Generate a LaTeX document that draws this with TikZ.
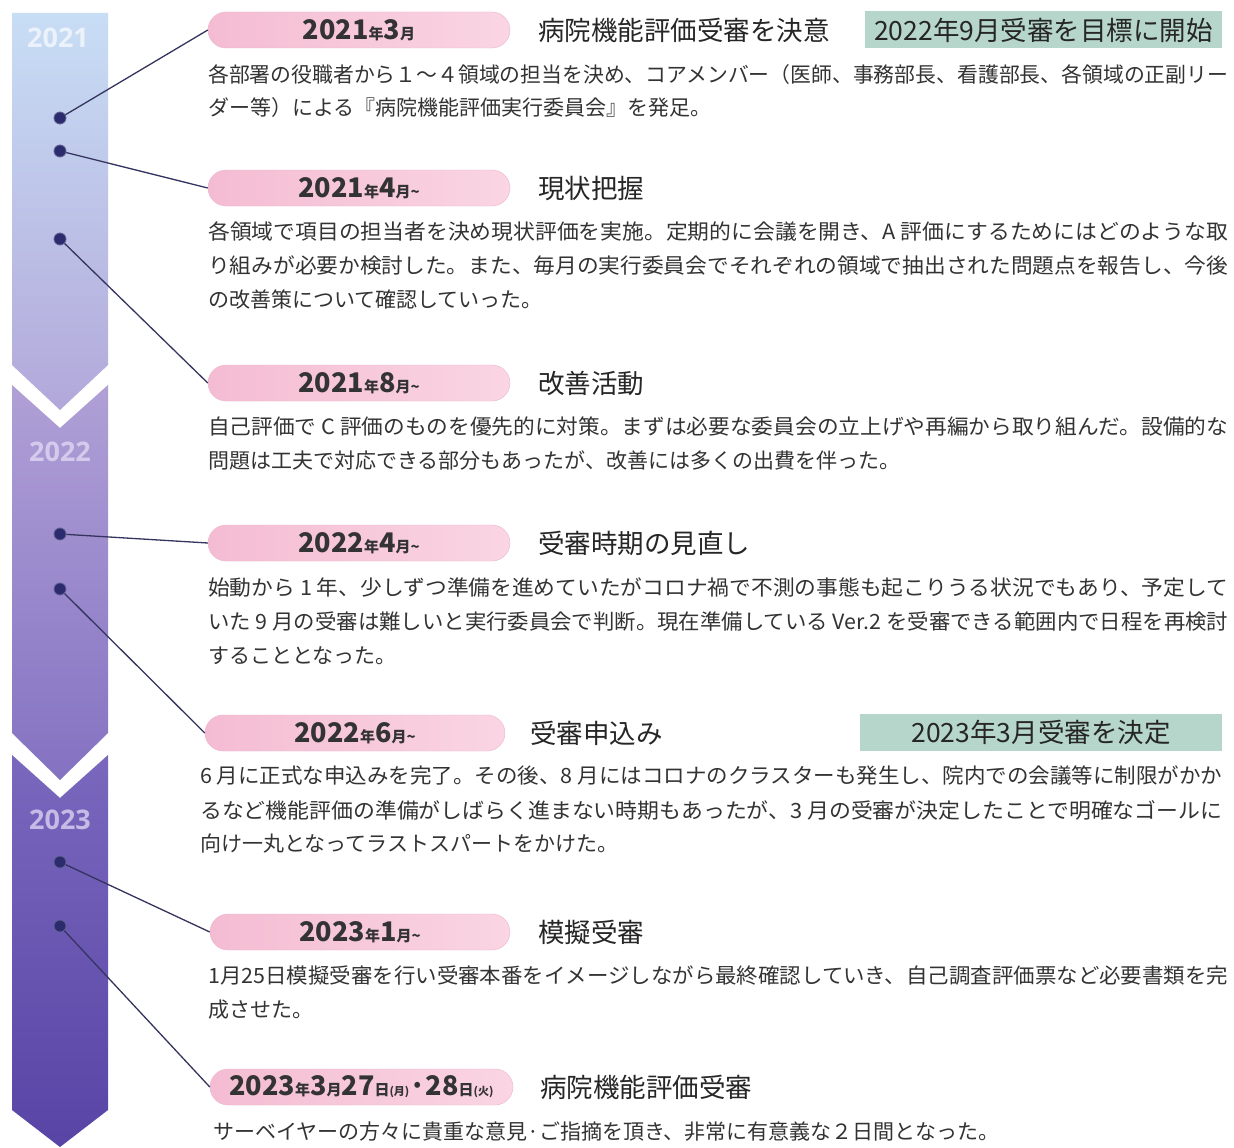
\documentclass[tikz,border=0pt]{standalone}
\usepackage{fontspec}
\usepackage{graphicx}
\setmainfont{Noto Sans CJK JP}
\newfontfamily\yearfont{Open Sans}
\definecolor{pinkL}{HTML}{F4BCD2}
\definecolor{pinkR}{HTML}{FAD5E3}
\definecolor{greenbox}{HTML}{B6D6CB}
\definecolor{txtgray}{HTML}{333333}
\definecolor{dotcol}{HTML}{2B2B6E}
\definecolor{linecol}{HTML}{34345F}
\newcommand\BN[1]{{\fontsize{27}{27}\selectfont\bfseries #1}}
\newcommand\SN[1]{{\fontsize{15}{15}\selectfont\bfseries #1}}
\newcommand\TN[1]{{\fontsize{11}{11}\selectfont\bfseries #1}}
\newcommand\jl[1]{\resizebox{1020pt}{\height}{#1}}
\newcommand\jlb[1]{\resizebox{1022pt}{\height}{#1}}
\tikzset{
  pill/.style={rectangle, rounded corners=18pt, minimum width=302pt, minimum height=36pt,
    left color=pinkL, right color=pinkR, draw=pinkL!85!black!20!pinkL, inner sep=0pt, text=txtgray},
  ttl/.style={anchor=west, font=\fontsize{26.5}{26.5}\selectfont, text=black!85, inner sep=0pt},
  gbox/.style={rectangle, fill=greenbox, minimum height=37pt, inner sep=0pt,
    font=\fontsize{26.5}{26.5}\selectfont, text=black!85},
  body/.style={anchor=west, font=\fontsize{21}{24}\selectfont, text=txtgray, inner sep=0pt},
  dot/.style={circle, fill=dotcol, draw=dotcol!75!white, line width=0.8pt, minimum size=12pt, inner sep=0pt},
  conn/.style={draw=linecol, line width=1.3pt},
  year/.style={font=\yearfont\bfseries\fontsize{27}{27}\selectfont, inner sep=0pt}
}
\begin{document}
\begin{tikzpicture}[x=1pt, y=-1pt]
\useasboundingbox (0,0) rectangle (1234,1148);
\fill[white] (0,0) rectangle (1234,1148);
% timeline band
\shade[top color={rgb,255:red,200;green,222;blue,245}, bottom color={rgb,255:red,178;green,168;blue,218}]
  (12,13) -- (108,13) -- (108,365) -- (60,410) -- (12,365) -- cycle;
\shade[top color={rgb,255:red,176;green,160;blue,214}, bottom color={rgb,255:red,132;green,114;blue,194}]
  (12,385) -- (60,428) -- (108,385) -- (108,733) -- (60,780) -- (12,733) -- cycle;
\shade[top color={rgb,255:red,122;green,104;blue,190}, bottom color={rgb,255:red,88;green,68;blue,165}]
  (12,755) -- (60,798) -- (108,755) -- (108,1110) -- (60,1147) -- (12,1110) -- cycle;
\node[year, text={rgb,255:red,236;green,242;blue,251}] (y1) at (58,38) {2021};
\node[year, text={rgb,255:red,214;green,202;blue,236}] (y2) at (60,452) {2022};
\node[year, text={rgb,255:red,200;green,186;blue,230}] (y3) at (60,820) {2023};
% pills
\node[pill] (p1) at (359,30) {\BN{2021}\SN{年}\BN{3}\SN{月}};
\node[pill] (p2) at (359,188) {\BN{2021}\SN{年}\BN{4}\SN{月\textasciitilde}};
\node[pill] (p3) at (359,383) {\BN{2021}\SN{年}\BN{8}\SN{月\textasciitilde}};
\node[pill] (p4) at (359,543) {\BN{2022}\SN{年}\BN{4}\SN{月\textasciitilde}};
\node[pill, minimum width=300pt] (p5) at (355,733) {\BN{2022}\SN{年}\BN{6}\SN{月\textasciitilde}};
\node[pill, minimum width=300pt] (p6) at (360,932) {\BN{2023}\SN{年}\BN{1}\SN{月\textasciitilde}};
\node[pill, minimum width=303pt] (p7) at (361.5,1087) {\BN{2023}\SN{年}\BN{3}\SN{月}\BN{27}\SN{日}\TN{(月)}\BN{·}\BN{28}\SN{日}\TN{(火)}};
% titles
\node[ttl] (t1) at (538,30) {病院機能評価受審を決意};
\node[ttl] (t2) at (538,188) {現状把握};
\node[ttl] (t3) at (538,383) {改善活動};
\node[ttl] (t4) at (538,543) {受審時期の見直し};
\node[ttl] (t5) at (530,733) {受審申込み};
\node[ttl] (t6) at (538,932) {模擬受審};
\node[ttl] (t7) at (540,1087) {病院機能評価受審};
% green boxes
\node[gbox, minimum width=357pt] (g1) at (1043.5,30) {2022年9月受審を目標に開始};
\node[gbox, minimum width=362pt] (g2) at (1041,732) {2023年3月受審を決定};
% body texts
\node[body] (b1a) at (208,75) {\jl{各部署の役職者から１～４領域の担当を決め、コアメンバー（医師、事務部長、看護部長、各領域の正副リー}};
\node[body] (b1b) at (208,108) {ダー等）による『病院機能評価実行委員会』を発足。};
\node[body] (b2a) at (208,232) {\jl{各領域で項目の担当者を決め現状評価を実施。定期的に会議を開き、A 評価にするためにはどのような取}};
\node[body] (b2b) at (208,266) {\jl{り組みが必要か検討した。また、毎月の実行委員会でそれぞれの領域で抽出された問題点を報告し、今後}};
\node[body] (b2c) at (208,300) {の改善策について確認していった。};
\node[body] (b3a) at (208,427) {\jl{自己評価で C 評価のものを優先的に対策。まずは必要な委員会の立上げや再編から取り組んだ。設備的な}};
\node[body] (b3b) at (208,461) {問題は工夫で対応できる部分もあったが、改善には多くの出費を伴った。};
\node[body] (b4a) at (208,588) {\jl{始動から 1 年、少しずつ準備を進めていたがコロナ禍で不測の事態も起こりうる状況でもあり、予定して}};
\node[body] (b4b) at (208,622) {\jl{いた 9 月の受審は難しいと実行委員会で判断。現在準備している Ver.2 を受審できる範囲内で日程を再検討}};
\node[body] (b4c) at (208,656) {することとなった。};
\node[body] (b5a) at (200,776) {\jlb{6 月に正式な申込みを完了。その後、8 月にはコロナのクラスターも発生し、院内での会議等に制限がかか}};
\node[body] (b5b) at (200,810) {\jlb{るなど機能評価の準備がしばらく進まない時期もあったが、3 月の受審が決定したことで明確なゴールに}};
\node[body] (b5c) at (200,844) {向け一丸となってラストスパートをかけた。};
\node[body] (b6a) at (208,976) {\jl{1月25日模擬受審を行い受審本番をイメージしながら最終確認していき、自己調査評価票など必要書類を完}};
\node[body] (b6b) at (208,1010) {成させた。};
\node[body] (b7a) at (213,1132) {サーベイヤーの方々に貴重な意見·ご指摘を頂き、非常に有意義な２日間となった。};
% dots
\node[dot] (d1) at (60,118) {};
\node[dot] (d2) at (60,151) {};
\node[dot] (d3) at (60,239) {};
\node[dot] (d4) at (60,534) {};
\node[dot] (d5) at (60,589) {};
\node[dot] (d6) at (60,862) {};
\node[dot] (d7) at (60,926) {};
% connectors
\draw[conn] (d1) -- (p1.west);
\draw[conn] (d2) -- (p2.west);
\draw[conn] (d3) -- (p3.west);
\draw[conn] (d4) -- (p4.west);
\draw[conn] (d5) -- (p5.west);
\draw[conn] (d6) -- (p6.west);
\draw[conn] (d7) -- (p7.west);
\end{tikzpicture}
\end{document}
